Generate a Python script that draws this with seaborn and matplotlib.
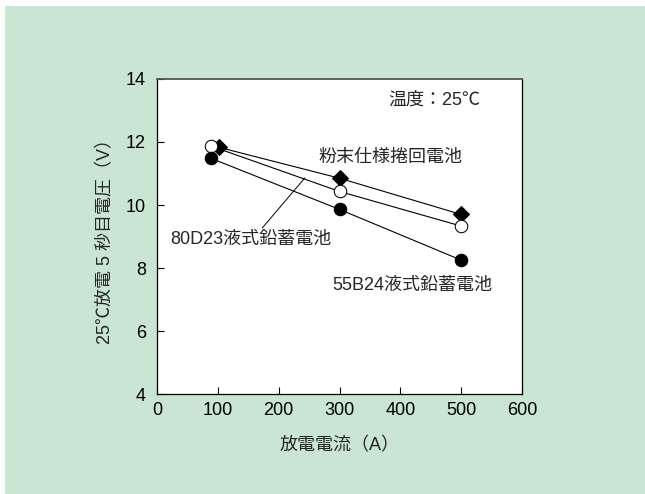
import pandas as pd
import matplotlib
matplotlib.use("Agg")
import matplotlib.pyplot as plt
import seaborn as sns
from matplotlib.patches import Rectangle

# data
x_powder = [102, 300, 500]
v_powder = [11.83, 10.85, 9.70]
x_80d23 = [89, 300, 500]
v_80d23 = [11.87, 10.43, 9.33]
x_55b24 = [89, 300, 500]
v_55b24 = [11.48, 9.86, 8.25]

xticks = [0, 100, 200, 300, 400, 500, 600]
yticks = [4, 6, 8, 10, 12, 14]

sns.set_style("ticks")
plt.rcParams['font.family'] = ['Liberation Sans', 'Noto Sans CJK JP', 'DejaVu Sans']

bg = "#cbe5d5"
fs = 13
fig = plt.figure(figsize=(6.45, 4.94), dpi=100, facecolor="white")
fig.add_artist(Rectangle((5 / 645, 0), 1, 488 / 494, transform=fig.transFigure,
                         facecolor=bg, edgecolor="none", zorder=-10))
ax = fig.add_axes([0.2434, 0.2024, 0.566, 0.6377])
ax.set_facecolor("white")

sns.lineplot(x=x_powder, y=v_powder, ax=ax, color="black", lw=0.8, marker="D",
             markersize=8, markerfacecolor="black", markeredgecolor="black")
sns.lineplot(x=x_80d23, y=v_80d23, ax=ax, color="black", lw=0.8, marker="o",
             markersize=9, markerfacecolor="white", markeredgecolor="black")
sns.lineplot(x=x_55b24, y=v_55b24, ax=ax, color="black", lw=0.8, marker="o",
             markersize=9, markerfacecolor="black", markeredgecolor="black")

ax.set_xlim(0, 600)
ax.set_ylim(4, 14)
ax.set_xticks(xticks)
ax.set_yticks(yticks)
ax.tick_params(direction="in", length=5, width=0.8, labelsize=fs, colors="black")
ax.tick_params(axis="x", pad=6)
ax.tick_params(axis="y", pad=8)
for s in ax.spines.values():
    s.set_linewidth(0.9)
    s.set_color("black")
ax.spines["top"].set_color("#555555")
ax.spines["top"].set_linewidth(1.3)

ax.set_xlabel("放電電流（A）", fontsize=fs, labelpad=13)
ax.set_ylabel("25℃放電 5 秒目電圧（V）", fontsize=fs, labelpad=8)

ax.text(531, 13.33, "温度：25℃", fontsize=fs, ha="right", va="center")
ax.text(265, 11.52, "粉末仕様捲回電池", fontsize=fs, ha="left", va="center")
ax.text(21, 8.89, "80D23液式鉛蓄電池", fontsize=fs, ha="left", va="center")
ax.text(288, 7.46, "55B24液式鉛蓄電池", fontsize=fs, ha="left", va="center")
ax.plot([173, 243], [9.27, 10.86], color="black", lw=0.7)

fig.savefig("out.png", dpi=100, facecolor=fig.get_facecolor())
